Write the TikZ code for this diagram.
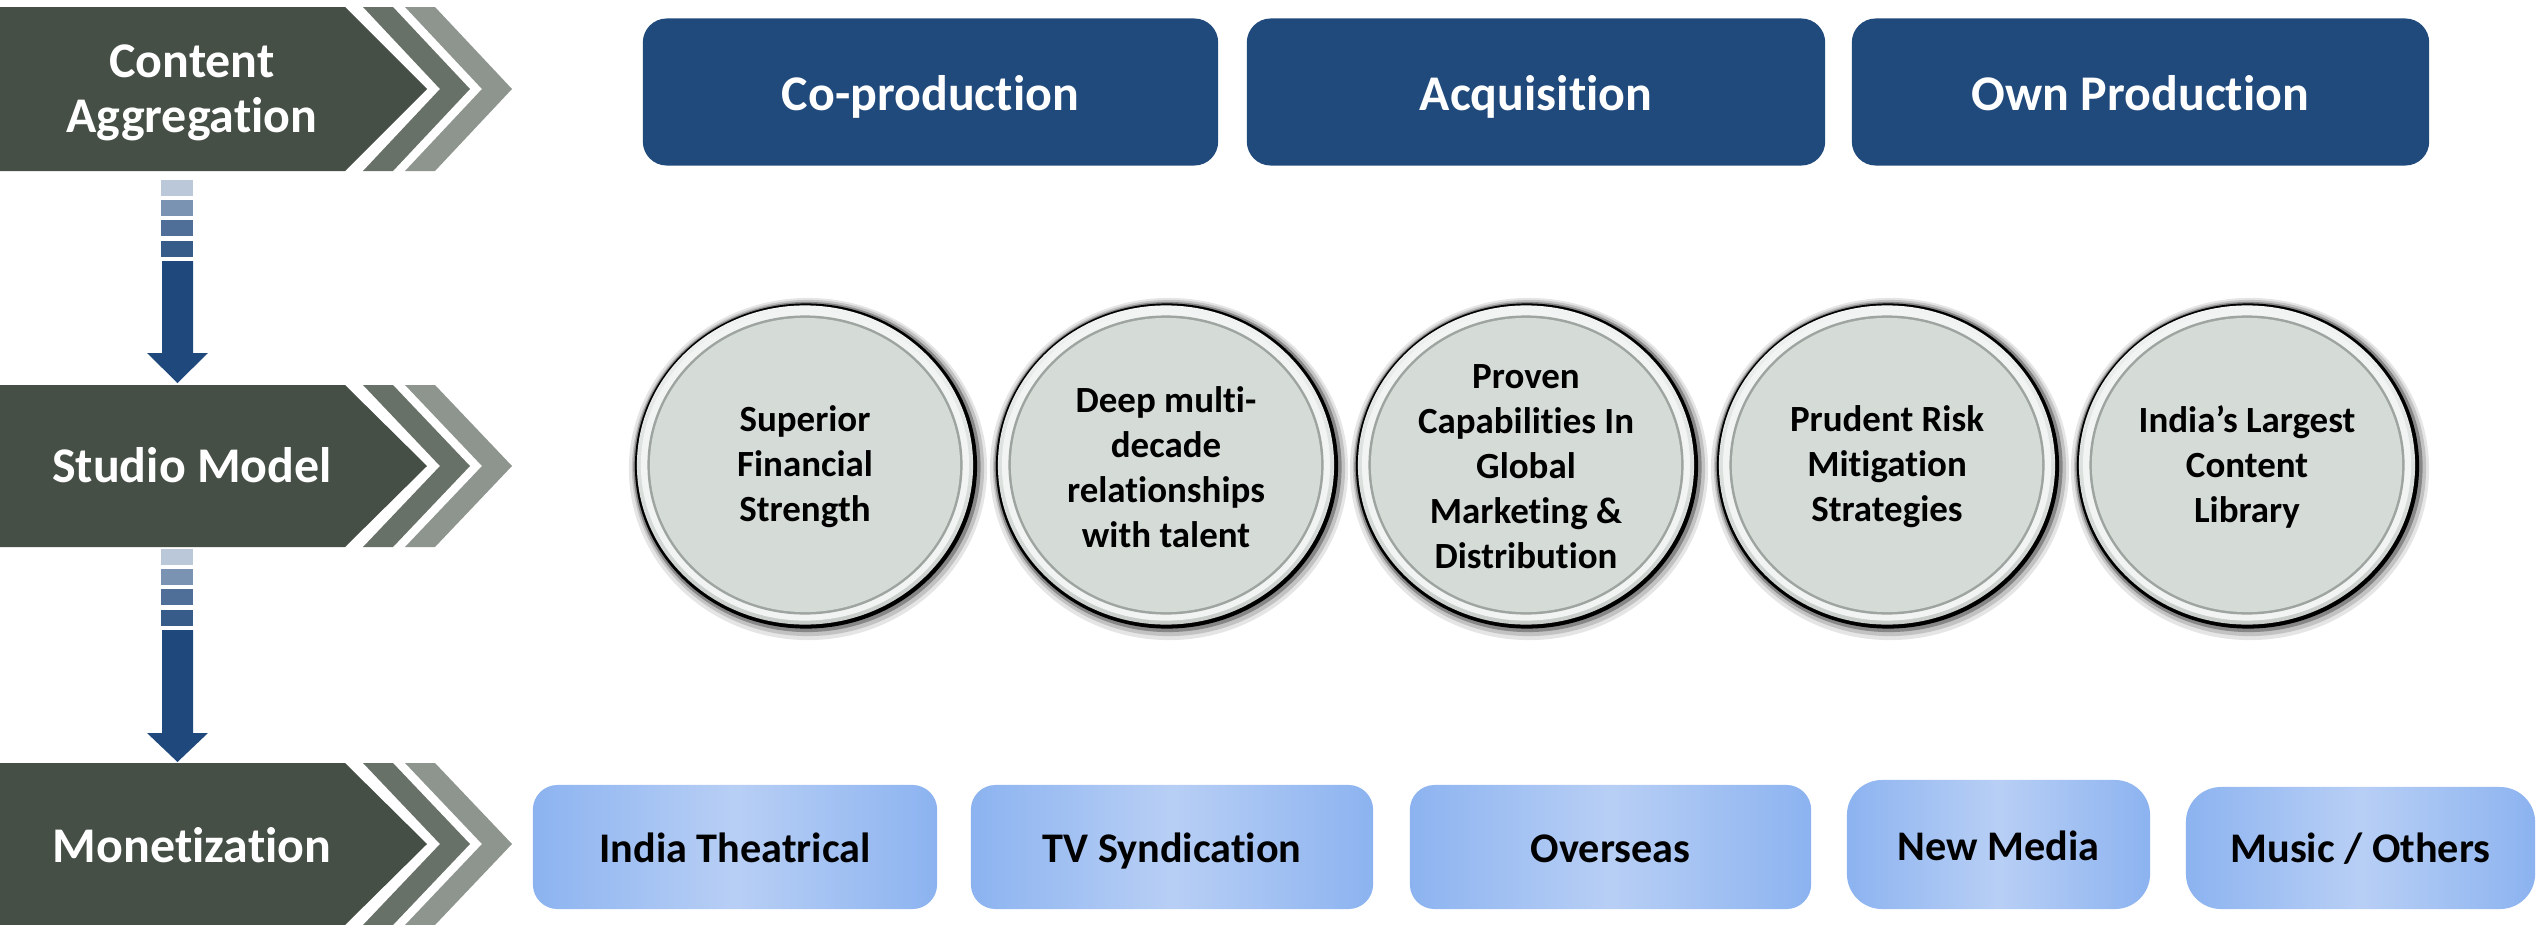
\documentclass[tikz,border=0pt]{standalone}
\usepackage{fontspec}
\setmainfont{Carlito}[Ligatures=NoCommon]
\definecolor{chevdark}{RGB}{69,79,70}
\definecolor{chevmid}{RGB}{104,113,104}
\definecolor{chevlight}{RGB}{142,149,142}
\definecolor{topblue}{RGB}{33,74,124}
\definecolor{arrblue}{RGB}{31,73,125}
\definecolor{stA}{RGB}{186,200,218}
\definecolor{stB}{RGB}{122,147,179}
\definecolor{stC}{RGB}{79,111,153}
\definecolor{stD}{RGB}{55,92,138}
\definecolor{boxedge}{RGB}{140,179,240}
\definecolor{boxmid}{RGB}{184,207,245}
\definecolor{ringtop}{RGB}{241,244,242}
\definecolor{ringbot}{RGB}{200,205,202}
\definecolor{coinface}{RGB}{213,219,215}
\definecolor{coinline}{RGB}{158,164,160}
\newcommand\coinbadge[4]{%
  \begin{scope}[shift={(#1,#2)}]
    \fill[black,opacity=0.10] (3,4) ellipse [x radius=1.79cm, y radius=1.71cm];
    \fill[black,opacity=0.15] (3,3) ellipse [x radius=1.76cm, y radius=1.68cm];
    \fill[black,opacity=0.30] (2,2) ellipse [x radius=1.735cm, y radius=1.65cm];
    \fill[black] (1,1) ellipse [x radius=1.71cm, y radius=1.625cm];
    \shade[top color=ringtop, bottom color=ringbot] (0,0) ellipse [x radius=1.68cm, y radius=1.595cm];
    \fill[ringtop] (0,0) ellipse [x radius=1.64cm, y radius=1.555cm];
    \fill[coinline] (0,0) ellipse [x radius=1.575cm, y radius=1.495cm];
    \fill[coinface] (0,0) ellipse [x radius=1.55cm, y radius=1.47cm];
    \node[cointext] (#3) at (0,2) {#4};
  \end{scope}}
\newcommand\downblock[3]{%
  \fill[stA] (161,#1) rectangle (193,#1+16);
  \fill[stB] (161,#1+20) rectangle (193,#1+36);
  \fill[stC] (161,#1+40) rectangle (193,#1+56);
  \fill[stD] (161,#1+61) rectangle (193,#1+77);
  \fill[arrblue] (162,#1+81) -- (193,#1+81) -- (193,#2) -- (208,#2) -- (177.5,#3)
     -- (147,#2) -- (162,#2) -- cycle;}
\begin{document}
\begin{tikzpicture}[x=0.01cm,y=-0.01cm,
  toplabel/.style={fill=topblue, rounded corners=6.8pt, text=white,
    font=\bfseries\fontsize{14.2}{17}\selectfont, inner sep=0pt, minimum height=1.47cm},
  toptext/.style={text=white, font=\bfseries\fontsize{14.2}{17}\selectfont, inner sep=0pt,
    text height=9.1pt, text depth=0pt},
  botlabel/.style={left color=boxedge, right color=boxedge, middle color=boxmid,
    rounded corners=7pt, inner sep=0pt},
  bottext/.style={font=\bfseries\fontsize{12}{14}\selectfont, inner sep=0pt,
    text height=7.7pt, text depth=0pt},
  chevtext/.style={text=white, font=\bfseries\fontsize{14.2}{15.6}\selectfont, align=center},
  cointext/.style={font=\bfseries\fontsize{10.5}{12.8}\selectfont, align=center, text=black}]
\fill[white] (0,0) rectangle (2539,924);
\useasboundingbox (0,0) rectangle (2539,924);
% chevrons
\foreach \T/\B/\M in {7/171/89, 385/547/466, 763/925/844} {
  \fill[chevdark] (0,\T) -- (345,\T) -- (427,\M) -- (345,\B) -- (0,\B) -- cycle;
  \fill[chevmid] (363,\T) -- (393,\T) -- (470,\M) -- (393,\B) -- (363,\B) -- (440,\M) -- cycle;
  \fill[chevlight] (405,\T) -- (435,\T) -- (512,\M) -- (435,\B) -- (405,\B) -- (482,\M) -- cycle;
}
\node[chevtext] (ca) at (192,93) {Content\\Aggregation};
\node[chevtext] (sm) at (192,465) {Studio Model};
\node[chevtext] (mo) at (192,845) {Monetization};
% down arrows
\downblock{180}{353}{383}
\downblock{549}{733}{762}
% top boxes
\node[toplabel, minimum width=5.75cm] (cop) at (930.5,92) {};
\node[toplabel, minimum width=5.78cm] (acq) at (1536,92) {};
\node[toplabel, minimum width=5.77cm] (own) at (2140.5,92) {};
\node[toptext] (copt) at (930.5,94) {Co-production};
\node[toptext] (acqt) at (1536,94) {Acquisition};
\node[toptext] (ownt) at (2140.5,94) {Own Production};
% coins
\coinbadge{805}{465}{c1}{Superior\\Financial\\Strength}
\coinbadge{1166}{465}{c2}{Deep multi-\\decade\\relationships\\with talent}
\coinbadge{1526}{465}{c3}{Proven\\Capabilities In\\Global\\Marketing \&\\Distribution}
\coinbadge{1887}{465}{c4}{Prudent Risk\\Mitigation\\Strategies}
\coinbadge{2247}{465}{c5}{India’s Largest\\Content\\Library}
% bottom boxes
\node[botlabel, minimum width=4.04cm, minimum height=1.24cm] (ith) at (735,847) {};
\node[botlabel, minimum width=4.02cm, minimum height=1.24cm] (tvs) at (1172,847) {};
\node[botlabel, minimum width=4.01cm, minimum height=1.24cm] (ovs) at (1610.5,847) {};
\node[botlabel, minimum width=3.03cm, minimum height=1.29cm, rounded corners=10pt] (nm) at (1998.5,844.5) {};
\node[botlabel, minimum width=3.49cm, minimum height=1.22cm, rounded corners=10pt] (mus) at (2360.5,848) {};
\node[bottext] (itht) at (735,849) {India Theatrical};
\node[bottext] (tvst) at (1172,849) {TV Syndication};
\node[bottext] (ovst) at (1610.5,849) {Overseas};
\node[bottext] (nmt) at (1998.5,847) {New Media};
\node[bottext] (must) at (2360.5,849) {Music / Others};
\end{tikzpicture}
\end{document}
